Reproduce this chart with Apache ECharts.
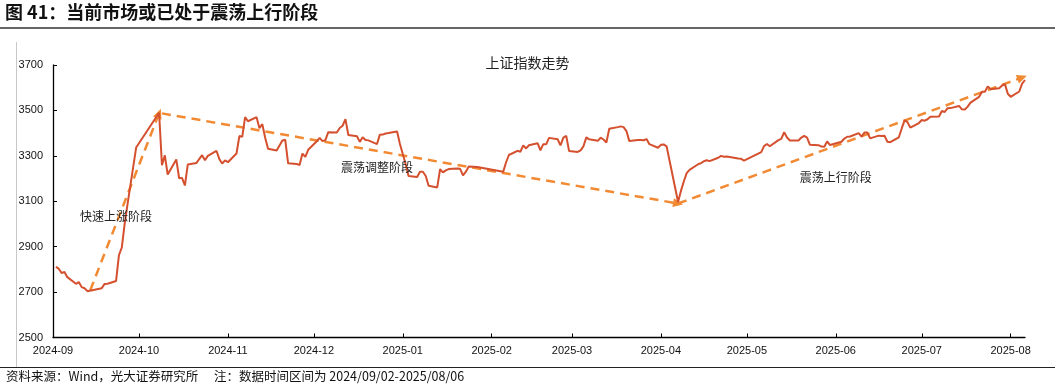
<!DOCTYPE html>
<html><head><meta charset="utf-8">
<script src="https://cdn.jsdelivr.net/npm/echarts@6/dist/echarts.min.js"></script>
<style>html,body{margin:0;padding:0;background:#fff}#c{width:1055px;height:390px}</style>
</head><body><div id="c"></div>
<script>
// Trading dates of the SSE Composite (上证指数)
const dates = [
 '2024-09-02','2024-09-03','2024-09-04','2024-09-05','2024-09-06','2024-09-09','2024-09-10','2024-09-11','2024-09-12','2024-09-13','2024-09-18','2024-09-19','2024-09-20','2024-09-23','2024-09-24','2024-09-25','2024-09-26','2024-09-27','2024-09-30',
 '2024-10-08','2024-10-09','2024-10-10','2024-10-11','2024-10-14','2024-10-15','2024-10-16','2024-10-17','2024-10-18','2024-10-21','2024-10-22','2024-10-23','2024-10-24','2024-10-25','2024-10-28','2024-10-29','2024-10-30','2024-10-31',
 '2024-11-01','2024-11-04','2024-11-05','2024-11-06','2024-11-07','2024-11-08','2024-11-11','2024-11-12','2024-11-13','2024-11-14','2024-11-15','2024-11-18','2024-11-19','2024-11-20','2024-11-21','2024-11-22','2024-11-25','2024-11-26','2024-11-27','2024-11-28','2024-11-29',
 '2024-12-02','2024-12-03','2024-12-04','2024-12-05','2024-12-06','2024-12-09','2024-12-10','2024-12-11','2024-12-12','2024-12-13','2024-12-16','2024-12-17','2024-12-18','2024-12-19','2024-12-20','2024-12-23','2024-12-24','2024-12-25','2024-12-26','2024-12-27','2024-12-30','2024-12-31',
 '2025-01-02','2025-01-03','2025-01-06','2025-01-07','2025-01-08','2025-01-09','2025-01-10','2025-01-13','2025-01-14','2025-01-15','2025-01-16','2025-01-17','2025-01-20','2025-01-21','2025-01-22','2025-01-23','2025-01-24','2025-01-27',
 '2025-02-05','2025-02-06','2025-02-07','2025-02-10','2025-02-11','2025-02-12','2025-02-13','2025-02-14','2025-02-17','2025-02-18','2025-02-19','2025-02-20','2025-02-21','2025-02-24','2025-02-25','2025-02-26','2025-02-27','2025-02-28',
 '2025-03-03','2025-03-04','2025-03-05','2025-03-06','2025-03-07','2025-03-10','2025-03-11','2025-03-12','2025-03-13','2025-03-14','2025-03-17','2025-03-18','2025-03-19','2025-03-20','2025-03-21','2025-03-24','2025-03-25','2025-03-26','2025-03-27','2025-03-28','2025-03-31',
 '2025-04-01','2025-04-02','2025-04-03','2025-04-07','2025-04-08','2025-04-09','2025-04-10','2025-04-11','2025-04-14','2025-04-15','2025-04-16','2025-04-17','2025-04-18','2025-04-21','2025-04-22','2025-04-23','2025-04-24','2025-04-25','2025-04-28','2025-04-29','2025-04-30',
 '2025-05-06','2025-05-07','2025-05-08','2025-05-09','2025-05-12','2025-05-13','2025-05-14','2025-05-15','2025-05-16','2025-05-19','2025-05-20','2025-05-21','2025-05-22','2025-05-23','2025-05-26','2025-05-27','2025-05-28','2025-05-29','2025-05-30',
 '2025-06-03','2025-06-04','2025-06-05','2025-06-06','2025-06-09','2025-06-10','2025-06-11','2025-06-12','2025-06-13','2025-06-16','2025-06-17','2025-06-18','2025-06-19','2025-06-20','2025-06-23','2025-06-24','2025-06-25','2025-06-26','2025-06-27','2025-06-30',
 '2025-07-01','2025-07-02','2025-07-03','2025-07-04','2025-07-07','2025-07-08','2025-07-09','2025-07-10','2025-07-11','2025-07-14','2025-07-15','2025-07-16','2025-07-17','2025-07-18','2025-07-21','2025-07-22','2025-07-23','2025-07-24','2025-07-25','2025-07-28','2025-07-29','2025-07-30','2025-07-31',
 '2025-08-01','2025-08-04','2025-08-05','2025-08-06'
];
const closes = [
 2811.04,2802.98,2784.28,2788.31,2765.81,2736.49,2744.19,2721.80,2717.12,2704.09,2717.28,2736.02,2736.81,2748.92,2863.13,2896.31,3000.95,3087.53,3336.50,
 3489.78,3258.86,3301.93,3217.74,3284.32,3201.29,3202.95,3169.38,3261.56,3268.11,3285.87,3302.80,3280.26,3299.70,3322.20,3286.41,3266.24,3279.82,
 3272.01,3310.21,3386.99,3383.81,3470.66,3452.30,3470.07,3421.97,3439.28,3379.84,3330.73,3323.85,3346.01,3367.99,3370.40,3267.19,3263.76,3259.76,3309.78,3295.70,3326.46,
 3363.98,3378.81,3364.65,3368.86,3404.08,3402.53,3422.66,3432.49,3461.50,3391.88,3386.33,3361.49,3382.21,3370.03,3368.07,3351.88,3393.35,3393.53,3398.08,3400.14,3407.33,3351.76,
 3262.56,3211.43,3206.92,3229.64,3230.17,3211.39,3168.52,3160.76,3240.94,3227.12,3236.03,3241.82,3244.38,3242.62,3213.62,3230.16,3252.63,3250.60,
 3229.49,3270.66,3303.67,3322.17,3318.06,3346.39,3332.48,3346.72,3355.83,3324.49,3351.54,3350.78,3379.11,3373.03,3346.04,3380.21,3388.06,3320.90,
 3316.93,3324.21,3341.96,3381.10,3372.55,3366.16,3379.83,3371.92,3358.73,3419.56,3426.43,3429.76,3426.43,3408.95,3364.83,3370.03,3369.98,3368.70,3373.75,3351.31,3335.75,
 3348.44,3350.13,3342.01,3096.58,3145.55,3186.81,3223.64,3238.23,3262.81,3267.66,3276.00,3280.34,3276.73,3291.43,3299.76,3296.36,3297.29,3295.06,3288.41,3286.65,3279.03,
 3316.11,3342.67,3352.00,3342.00,3369.24,3374.87,3403.95,3380.82,3367.46,3367.58,3380.48,3387.57,3380.19,3348.37,3346.84,3340.69,3339.93,3363.45,3347.49,
 3361.98,3376.20,3384.10,3385.36,3399.77,3384.82,3402.32,3402.66,3377.00,3388.81,3387.40,3388.81,3362.11,3359.90,3381.58,3420.57,3455.97,3448.45,3424.23,3444.43,
 3457.75,3454.79,3461.15,3472.32,3473.13,3497.48,3493.05,3509.68,3510.18,3519.65,3505.00,3503.78,3516.83,3534.48,3559.79,3581.86,3582.30,3605.73,3593.66,3597.94,3609.71,3615.72,3573.21,
 3559.95,3583.31,3617.60,3633.99
];
// Trend arrows (start / end in data space)
const trendFrom = [['2024-09-14', 2708], ['2024-10-09', 3487], ['2025-04-07', 3090]];
const trendTo   = [['2024-10-08', 3487], ['2025-04-07', 3090], ['2025-08-05', 3645]];
// Phase labels
const phaseNames = ['快速上涨阶段', '震荡调整阶段', '震荡上行阶段'];
const phasePos = [['2024-09-23', 3033], ['2024-12-23', 3247], ['2025-06-01', 3203]];
// Axis settings
const yMin = 2500, yMax = 3700, yStep = 200;
const xMin = '2024-09-01', xMax = '2025-08-06';

const CJK = '"Noto Sans CJK SC","Noto Sans",sans-serif';
const LAT = '"Liberation Sans",Arial,sans-serif';
const DAY = 24 * 3600 * 1000;

const chart = echarts.init(document.getElementById('c'), null, {renderer: 'canvas'});
chart.setOption({
  animation: false,
  backgroundColor: '#fff',
  title: {
    text: '上证指数走势', left: 'center', top: 51,
    textStyle: {fontFamily: CJK, fontSize: 14, fontWeight: 'normal', color: '#222'}
  },
  graphic: [
    {type: 'text', left: 5, top: 3, style: {text: '图 41：当前市场或已处于震荡上行阶段', font: 'bold 18px ' + CJK, fill: '#111'}},
    {type: 'line', shape: {x1: 0, y1: 28, x2: 1055, y2: 28}, style: {stroke: '#333', lineWidth: 1.3}},
    {type: 'line', shape: {x1: 16.5, y1: 42, x2: 16.5, y2: 367}, style: {stroke: '#c8c8c8', lineWidth: 1}},
    {type: 'line', shape: {x1: 0, y1: 367.5, x2: 1055, y2: 367.5}, style: {stroke: '#222', lineWidth: 1.2}},
    {type: 'text', left: 6, top: 370, style: {text: '资料来源：Wind，光大证券研究所', font: '12.5px ' + CJK, fill: '#111'}},
    {type: 'text', left: 214, top: 370, style: {text: '注：数据时间区间为 2024/09/02-2025/08/06', font: '12.5px ' + CJK, fill: '#111'}}
  ],
  grid: {left: 53, right: 30, top: 65, bottom: 52.5, containLabel: false},
  xAxis: {
    type: 'time', min: xMin, max: xMax,
    splitNumber: 11, minInterval: 28 * DAY, maxInterval: 31 * DAY,
    axisLine: {lineStyle: {color: '#000', width: 1.3}},
    axisTick: {show: true, inside: true, length: 4, lineStyle: {color: '#000'}},
    splitLine: {show: false},
    minorTick: {show: false},
    axisLabel: {
      fontFamily: LAT, fontSize: 11, color: '#111', margin: 8, showMaxLabel: false, hideOverlap: false,
      formatter: function (v) { const d = new Date(v); return d.getFullYear() + '-' + String(d.getMonth() + 1).padStart(2, '0'); }
    }
  },
  yAxis: {
    type: 'value', min: yMin, max: yMax, interval: yStep,
    axisLine: {show: true, lineStyle: {color: '#000', width: 1.3}},
    axisTick: {show: true, inside: true, length: 4, lineStyle: {color: '#000'}},
    splitLine: {show: false},
    axisLabel: {fontFamily: LAT, fontSize: 11, color: '#111', margin: 10, formatter: function (v) { return String(v); }}
  },
  series: [
    {
      type: 'line', name: '上证指数',
      data: dates.map((d, i) => [d, closes[i]]),
      showSymbol: false, symbol: 'none',
      lineStyle: {color: '#D4502E', width: 2},
      itemStyle: {color: '#D4502E'},
      z: 3,
      markLine: {
        silent: true, symbol: ['none', 'triangle'], symbolSize: [9, 10],
        label: {show: false},
        lineStyle: {color: '#F28A33', width: 2.5, type: [9, 6]},
        data: trendFrom.map((f, i) => [{coord: f}, {coord: trendTo[i]}]),
        z: 2
      }
    },
    {
      type: 'scatter', symbol: 'circle', symbolSize: 0,
      itemStyle: {color: 'rgba(0,0,0,0)'},
      data: phasePos.map((p, i) => ({name: phaseNames[i], value: p})),
      label: {show: true, position: 'inside', formatter: '{b}', fontFamily: CJK, fontSize: 12, color: '#222', opacity: 1},
      silent: true, z: 5
    }
  ]
});
</script>
</body></html>
